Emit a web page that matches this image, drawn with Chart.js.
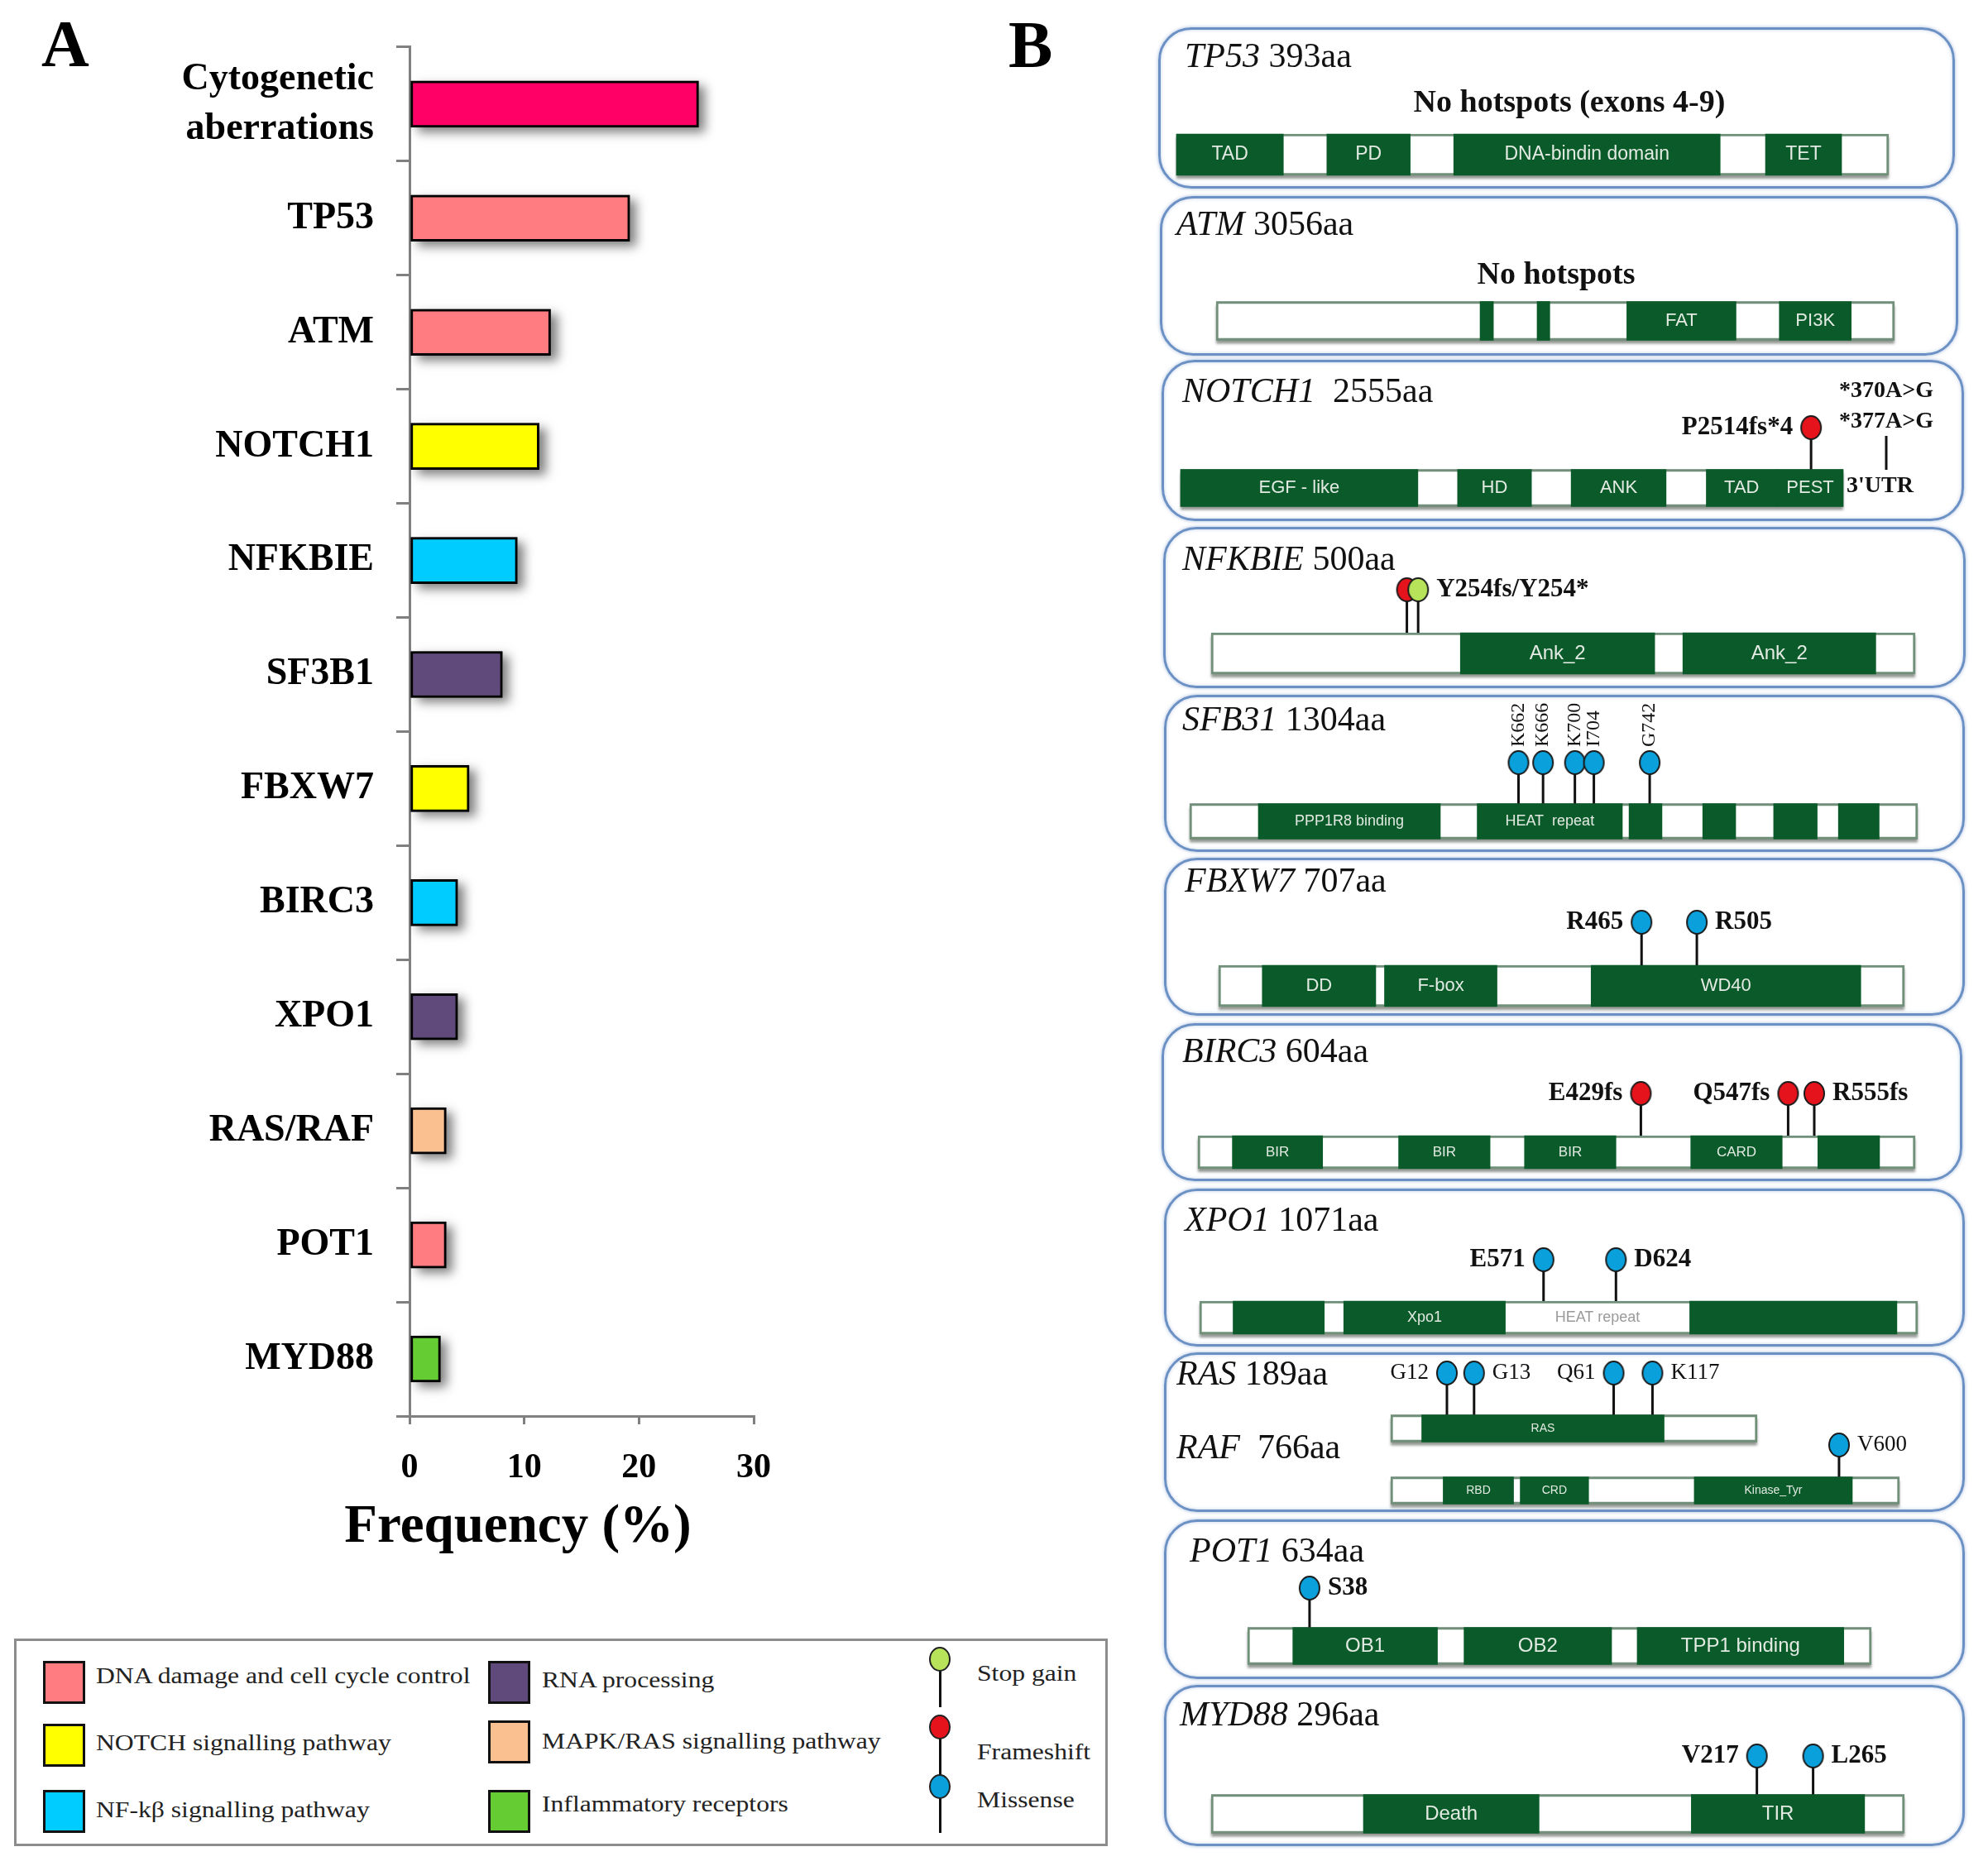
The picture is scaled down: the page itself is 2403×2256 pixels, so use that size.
<!DOCTYPE html>
<html>
<head>
<meta charset="utf-8">
<script src="https://cdn.jsdelivr.net/npm/chart.js@4.4.1/dist/chart.umd.min.js"></script>
<style>
  body { margin: 0; background: #fff; width: 2403px; height: 2256px; position: relative; overflow: hidden; font-family: "Liberation Serif", serif; }
  .abs { position: absolute; }
  .letter { position: absolute; font: bold 80px "Liberation Serif", serif; line-height: 1; color: #000; }
  .box { position: absolute; box-sizing: border-box; border: 3px solid #6b90c4; border-radius: 40px;
         box-shadow: 0 0 4px rgba(90,130,190,0.55), inset 0 0 4px rgba(90,130,190,0.35); }
  .legend { position: absolute; left: 17px; top: 1981px; width: 1322px; height: 251px; box-sizing: border-box; border: 3px solid #8c8c8c; }
  .sw { position: absolute; width: 51px; height: 52px; box-sizing: border-box; border: 3px solid #111; }
  .lt { position: absolute; font: 28px "Liberation Serif", serif; line-height: 1; transform: translateY(-50%) scaleX(1.13);
        transform-origin: left center; white-space: nowrap; color: #222; }
  .stem { position: absolute; width: 3px; background: #111; }
  .head { position: absolute; width: 26px; height: 30px; border-radius: 50%; box-sizing: border-box; border: 2px solid #222; }
</style>
</head>
<body>
<div class="letter" style="left:50px; top:13px;">A</div>
<div class="letter" style="left:1219px; top:14px;">B</div>
<canvas id="chartA" width="960" height="1960" class="abs" style="left:0; top:0;"></canvas>

<div class="legend"></div>
<div class="sw" style="left:52px; top:2008px; background:#FF7C80;"></div>
<div class="lt" style="left:116px; top:2026px;">DNA damage and cell cycle control</div>
<div class="sw" style="left:52px; top:2084px; background:#FFFF00;"></div>
<div class="lt" style="left:116px; top:2107px;">NOTCH signalling pathway</div>
<div class="sw" style="left:52px; top:2164px; background:#00CCFF;"></div>
<div class="lt" style="left:116px; top:2188px;">NF-kβ signalling pathway</div>
<div class="sw" style="left:590px; top:2008px; background:#604A7B;"></div>
<div class="lt" style="left:655px; top:2031px;">RNA processing</div>
<div class="sw" style="left:590px; top:2080px; background:#FAC090;"></div>
<div class="lt" style="left:655px; top:2105px;">MAPK/RAS signalling pathway</div>
<div class="sw" style="left:590px; top:2164px; background:#66CC33;"></div>
<div class="lt" style="left:655px; top:2181px;">Inflammatory receptors</div>

<div class="stem" style="left:1135px; top:2019px; height:45px;"></div>
<div class="head" style="left:1123px; top:1991px; background:#b6e35a;"></div>
<div class="stem" style="left:1135px; top:2100px; height:47px;"></div>
<div class="head" style="left:1123px; top:2073px; background:#e5141c;"></div>
<div class="stem" style="left:1135px; top:2172px; height:44px;"></div>
<div class="head" style="left:1123px; top:2145px; background:#0aa0dc;"></div>
<div class="lt" style="left:1181px; top:2023px;">Stop gain</div>
<div class="lt" style="left:1181px; top:2118px;">Frameshift</div>
<div class="lt" style="left:1181px; top:2176px;">Missense</div>

<script>
// ---- panel A data
const categories = [['Cytogenetic', 'aberrations'], 'TP53', 'ATM', 'NOTCH1', 'NFKBIE', 'SF3B1', 'FBXW7', 'BIRC3', 'XPO1', 'RAS/RAF', 'POT1', 'MYD88'];
const frequency = [25.2, 19.2, 12.3, 11.3, 9.4, 8.1, 5.2, 4.2, 4.2, 3.2, 3.2, 2.7];
const pathways = ['CYTO', 'DNA', 'DNA', 'NOTCH', 'NFKB', 'RNA', 'NOTCH', 'NFKB', 'RNA', 'MAPK', 'DNA', 'INFLAM'];
const freqTicks = [0, 10, 20, 30];

// ---- panel B data: [start aa, end aa, label] and [aa, type, label, side]
const TP53_LEN = 393;
const TP53_DOMAINS = [[0, 59, 'TAD'], [83, 129, 'PD'], [153, 300, 'DNA-bindin domain'], [325, 367, 'TET']];
const ATM_LEN = 3056;
const ATM_DOMAINS = [[1189, 1249, ''], [1446, 1503, ''], [1850, 2342, 'FAT'], [2537, 2861, 'PI3K']];
const NOTCH1_LEN = 2555;
const NOTCH1_DOMAINS = [[0, 915, 'EGF - like'], [1068, 1353, 'HD'], [1506, 1872, 'ANK'], [2027, 2300, 'TAD'], [2300, 2555, 'PEST']];
const NOTCH1_MUTS = [[2431, 'frameshift', 'P2514fs*4', 'left']];
const NOTCH1_UTR = ['*370A>G', '*377A>G', "3'UTR"];
const NFKBIE_LEN = 500;
const NFKBIE_DOMAINS = [[177, 315, 'Ank_2'], [335, 472, 'Ank_2']];
const NFKBIE_MUTS = [[139, 'frameshift', '', ''], [147, 'stopgain', 'Y254fs/Y254*', 'right']];
const SF3B1_LEN = 1304;
const SF3B1_DOMAINS = [[123, 449, 'PPP1R8 binding'], [515, 775, 'HEAT  repeat'], [787, 846, ''], [919, 978, ''], [1046, 1124, ''], [1162, 1235, '']];
const SF3B1_MUTS = [[589, 'missense', 'K662', 'up'], [633, 'missense', 'K666', 'up'], [690, 'missense', 'K700', 'up'], [724, 'missense', 'I704', 'up'], [824, 'missense', 'G742', 'up']];
const FBXW7_LEN = 707;
const FBXW7_DOMAINS = [[45, 162, 'DD'], [171, 287, 'F-box'], [384, 662, 'WD40']];
const FBXW7_MUTS = [[436, 'missense', 'R465', 'left'], [493, 'missense', 'R505', 'right']];
const BIRC3_LEN = 604;
const BIRC3_DOMAINS = [[29, 105, 'BIR'], [169, 246, 'BIR'], [275, 352, 'BIR'], [415, 492, 'CARD'], [522, 574, '']];
const BIRC3_MUTS = [[373, 'frameshift', 'E429fs', 'left'], [497, 'frameshift', 'Q547fs', 'left'], [519, 'frameshift', 'R555fs', 'right']];
const XPO1_LEN = 1071;
const XPO1_DOMAINS = [[50, 186, ''], [215, 456, 'Xpo1'], [731, 1040, '']];
const XPO1_REGIONS = [[456, 731, 'HEAT repeat']];
const XPO1_MUTS = [[513, 'missense', 'E571', 'left'], [621, 'missense', 'D624', 'right']];
const RAS_LEN = 189;
const RAS_DOMAINS = [[16, 141, 'RAS']];
const RAS_MUTS = [[29, 'missense', 'G12', 'left'], [43, 'missense', 'G13', 'right'], [115, 'missense', 'Q61', 'left'], [135, 'missense', 'K117', 'right']];
const RAF_LEN = 766;
const RAF_DOMAINS = [[79, 185, 'RBD'], [195, 298, 'CRD'], [457, 695, 'Kinase_Tyr']];
const RAF_MUTS = [[675, 'missense', 'V600', 'right']];
const POT1_LEN = 634;
const POT1_DOMAINS = [[46, 193, 'OB1'], [220, 370, 'OB2'], [396, 606, 'TPP1 binding']];
const POT1_MUTS = [[63, 'missense', 'S38', 'right']];
const MYD88_LEN = 296;
const MYD88_DOMAINS = [[65, 140, 'Death'], [205, 279, 'TIR']];
const MYD88_MUTS = [[233, 'missense', 'V217', 'left'], [257, 'missense', 'L265', 'right']];

const geneData = {
  TP53: [{ len: TP53_LEN, domains: TP53_DOMAINS, muts: [] }],
  ATM: [{ len: ATM_LEN, domains: ATM_DOMAINS, muts: [] }],
  NOTCH1: [{ len: NOTCH1_LEN, domains: NOTCH1_DOMAINS, muts: NOTCH1_MUTS }],
  NFKBIE: [{ len: NFKBIE_LEN, domains: NFKBIE_DOMAINS, muts: NFKBIE_MUTS }],
  SF3B1: [{ len: SF3B1_LEN, domains: SF3B1_DOMAINS, muts: SF3B1_MUTS }],
  FBXW7: [{ len: FBXW7_LEN, domains: FBXW7_DOMAINS, muts: FBXW7_MUTS }],
  BIRC3: [{ len: BIRC3_LEN, domains: BIRC3_DOMAINS, muts: BIRC3_MUTS }],
  XPO1: [{ len: XPO1_LEN, domains: XPO1_DOMAINS, muts: XPO1_MUTS, regions: XPO1_REGIONS }],
  RASRAF: [{ len: RAS_LEN, domains: RAS_DOMAINS, muts: RAS_MUTS }, { len: RAF_LEN, domains: RAF_DOMAINS, muts: RAF_MUTS }],
  POT1: [{ len: POT1_LEN, domains: POT1_DOMAINS, muts: POT1_MUTS }],
  MYD88: [{ len: MYD88_LEN, domains: MYD88_DOMAINS, muts: MYD88_MUTS }]
};

// ---- styles / layout
const SERIF = '"Liberation Serif", "DejaVu Serif", serif';
const SANS = '"Liberation Sans Narrow", "Liberation Sans", Arial, sans-serif';
const AXIS = '#808080';
const GREEN = '#0b5a2a';
const pathwayColors = { CYTO: '#FF0066', DNA: '#FF7C80', NOTCH: '#FFFF00', NFKB: '#00CCFF', RNA: '#604A7B', MAPK: '#FAC090', INFLAM: '#66CC33' };
const mutColors = { missense: '#0aa0dc', frameshift: '#e5141c', stopgain: '#b6e35a' };

// box: [left, top, width, height]; bars: [x start, x end, y centre, thickness] in page px
const geneLayout = [
  { key: 'TP53', box: [1400, 33, 963, 195], titles: [['TP53', ' 393aa', 1432, 70]], note: ['No hotspots (exons 4-9)', 1897, 125], bars: [[1422, 2283, 187, 50]], domainFont: 23 },
  { key: 'ATM', box: [1402, 237, 965, 193], titles: [['ATM', ' 3056aa', 1422, 273]], note: ['No hotspots', 1881, 333], bars: [[1470, 2290, 388, 47]], domainFont: 22 },
  { key: 'NOTCH1', box: [1404, 435, 970, 195], titles: [['NOTCH1', '  2555aa', 1429, 475]], bars: [[1427, 2228, 590, 45]], heads: [517], domainFont: 22,
    utr: { x: 2280, y0: 527, y1: 568, at: [[2223, 473], [2223, 510], [2232, 588]] } },
  { key: 'NFKBIE', box: [1406, 637, 970, 195], titles: [['NFKBIE', ' 500aa', 1429, 678]], bars: [[1464, 2315, 790, 50]], heads: [713], domainFont: 24 },
  { key: 'SF3B1', box: [1407, 840, 968, 190], titles: [['SFB31', ' 1304aa', 1429, 872]], bars: [[1438, 2318, 993, 43]], heads: [922], domainFont: 18, labelFont: '24px' },
  { key: 'FBXW7', box: [1407, 1037, 968, 191], titles: [['FBXW7', ' 707aa', 1432, 1067]], bars: [[1473, 2302, 1192, 50]], heads: [1115], domainFont: 22 },
  { key: 'BIRC3', box: [1404, 1237, 968, 191], titles: [['BIRC3', ' 604aa', 1429, 1273]], bars: [[1448, 2315, 1393, 40]], heads: [1322], domainFont: 17 },
  { key: 'XPO1', box: [1407, 1437, 968, 191], titles: [['XPO1', ' 1071aa', 1432, 1477]], bars: [[1450, 2318, 1593, 40]], heads: [1523], domainFont: 18 },
  { key: 'RASRAF', box: [1407, 1635, 968, 193], titles: [['RAS', ' 189aa', 1422, 1663], ['RAF', '  766aa', 1422, 1752]],
    bars: [[1681, 2124, 1727, 33], [1681, 2296, 1802, 33]], heads: [1660, 1747], domainFont: 14, labelFont: '27px' },
  { key: 'POT1', box: [1407, 1837, 968, 193], titles: [['POT1', ' 634aa', 1438, 1877]], bars: [[1508, 2262, 1990, 45]], heads: [1920], domainFont: 24 },
  { key: 'MYD88', box: [1407, 2037, 968, 195], titles: [['MYD88', ' 296aa', 1426, 2075]], bars: [[1464, 2302, 2193, 47]], heads: [2123], domainFont: 24 }
];

// ---- panel A
const barShadow = {
  id: 'barShadow',
  beforeDatasetsDraw(chart) {
    const ctx = chart.ctx;
    chart.getDatasetMeta(0).data.forEach(bar => {
      const { x, y, base, height } = bar.getProps(['x', 'y', 'base', 'height'], true);
      ctx.save();
      ctx.shadowColor = 'rgba(0,0,0,0.5)';
      ctx.shadowBlur = 12;
      ctx.shadowOffsetX = 8;
      ctx.shadowOffsetY = 6;
      ctx.fillStyle = '#888';
      ctx.fillRect(base, y - height / 2, x - base, height);
      ctx.restore();
    });
  }
};

// axis title sits left of the plot centre in the original, so it is drawn here
const freqTitle = {
  id: 'freqTitle',
  afterDraw(chart) {
    const ctx = chart.ctx;
    ctx.save();
    ctx.font = `bold 65px ${SERIF}`;
    ctx.fillStyle = '#000';
    ctx.textAlign = 'center';
    ctx.textBaseline = 'middle';
    ctx.fillText('Frequency (%)', 626, 1847);
    ctx.restore();
  }
};

new Chart(document.getElementById('chartA'), {
  type: 'bar',
  data: {
    labels: categories,
    datasets: [{
      data: frequency,
      backgroundColor: pathways.map(p => pathwayColors[p]),
      borderColor: '#000',
      borderWidth: 3,
      borderSkipped: false,
      barThickness: 56
    }]
  },
  options: {
    indexAxis: 'y',
    responsive: false,
    animation: false,
    devicePixelRatio: 1,
    layout: { padding: { top: 51, right: 49, bottom: 60, left: 0 } },
    plugins: { legend: { display: false }, tooltip: { enabled: false } },
    scales: {
      x: {
        type: 'linear', min: 0, max: 30,
        afterBuildTicks: s => { s.ticks = freqTicks.map(v => ({ value: v })); },
        afterFit: s => { s.height = 188; },
        ticks: { color: '#000', padding: 28, font: { family: SERIF, size: 42, weight: 'bold' } },
        grid: { drawOnChartArea: false, tickLength: 10, color: AXIS, lineWidth: 3 },
        border: { color: AXIS, width: 3 }
      },
      y: {
        afterFit: s => { s.width = 495; },
        ticks: { color: '#000', padding: 27, font: { family: SERIF, size: 46, weight: 'bold', lineHeight: 1.3 } },
        grid: { offset: true, drawOnChartArea: false, tickLength: 16, color: AXIS, lineWidth: 3 },
        border: { color: AXIS, width: 3 }
      }
    }
  },
  plugins: [barShadow, freqTitle]
});

// ---- panel B
function headIcon(fill) {
  const c = document.createElement('canvas');
  c.width = 28; c.height = 32;
  const x = c.getContext('2d');
  x.beginPath();
  x.ellipse(14, 16, 12, 14, 0, 0, Math.PI * 2);
  x.fillStyle = fill;
  x.fill();
  x.lineWidth = 2;
  x.strokeStyle = '#1b1b1b';
  x.stroke();
  return c;
}
const HEADS = {};
Object.keys(mutColors).forEach(k => { HEADS[k] = headIcon(mutColors[k]); });

const backboneShadow = {
  id: 'backboneShadow',
  beforeDatasetsDraw(chart) {
    const ctx = chart.ctx;
    chart.data.datasets.forEach((ds, i) => {
      if (!ds.backbone) return;
      chart.getDatasetMeta(i).data.forEach(el => {
        const { x, y, base, height } = el.getProps(['x', 'y', 'base', 'height'], true);
        ctx.save();
        ctx.shadowColor = 'rgba(60,70,60,0.55)';
        ctx.shadowBlur = 3;
        ctx.shadowOffsetY = 4;
        ctx.fillStyle = '#777';
        ctx.fillRect(base, y - height / 2, x - base, height);
        ctx.restore();
      });
    });
  }
};

function geneText(g, proteins) {
  const [bl, bt] = g.box;
  return {
    id: 'geneText',
    afterDatasetsDraw(chart) {
      const ctx = chart.ctx;
      const ys = chart.scales.y;
      ctx.save();
      ctx.textBaseline = 'middle';
      ctx.fillStyle = '#111';
      g.titles.forEach(([name, rest, tx, ty]) => {
        ctx.textAlign = 'left';
        ctx.font = `italic 42px ${SERIF}`;
        ctx.fillText(name, tx - bl, ty - bt);
        const w = ctx.measureText(name).width;
        ctx.font = `42px ${SERIF}`;
        ctx.fillText(rest, tx - bl + w, ty - bt);
      });
      if (g.note) {
        ctx.textAlign = 'center';
        ctx.font = `bold 38px ${SERIF}`;
        ctx.fillText(g.note[0], g.note[1] - bl, g.note[2] - bt);
      }
      proteins.forEach((p, k) => {
        const xs = chart.scales[k === 0 ? 'x' : 'x' + (k + 1)];
        const cy = ys.getPixelForValue(g.bars[k][2] - bt);
        ctx.textAlign = 'center';
        ctx.font = `${g.domainFont}px ${SANS}`;
        ctx.fillStyle = '#e2eae2';
        p.domains.forEach(d => { if (d[2]) ctx.fillText(d[2], xs.getPixelForValue((d[0] + d[1]) / 2), cy); });
        ctx.fillStyle = '#9a9a9a';
        (p.regions || []).forEach(r => ctx.fillText(r[2], xs.getPixelForValue((r[0] + r[1]) / 2), cy));
        ctx.fillStyle = '#111';
        ctx.font = g.labelFont ? `${g.labelFont} ${SERIF}` : `bold 31px ${SERIF}`;
        p.muts.forEach(m => {
          const label = m[2], side = m[3];
          if (!label) return;
          const px = xs.getPixelForValue(m[0]);
          const py = ys.getPixelForValue(g.heads[k] - bt);
          if (side === 'up') {
            ctx.save();
            ctx.translate(px, py - 19);
            ctx.rotate(-Math.PI / 2);
            ctx.textAlign = 'left';
            ctx.fillText(label, 0, 0);
            ctx.restore();
          } else if (side === 'left') {
            ctx.textAlign = 'right';
            ctx.fillText(label, px - 22, py);
          } else {
            ctx.textAlign = 'left';
            ctx.fillText(label, px + 22, py);
          }
        });
      });
      if (g.utr) {
        const u = g.utr;
        ctx.strokeStyle = '#111';
        ctx.lineWidth = 3;
        ctx.beginPath();
        ctx.moveTo(u.x - bl, u.y0 - bt);
        ctx.lineTo(u.x - bl, u.y1 - bt);
        ctx.stroke();
        ctx.textAlign = 'left';
        ctx.font = `bold 28px ${SERIF}`;
        NOTCH1_UTR.forEach((t, i) => ctx.fillText(t, u.at[i][0] - bl, u.at[i][1] - bt));
      }
      ctx.restore();
    }
  };
}

function drawGene(g) {
  const [bl, bt, bw, bh] = g.box;
  const frame = document.createElement('div');
  frame.className = 'box';
  frame.style.left = bl + 'px';
  frame.style.top = bt + 'px';
  frame.style.width = bw + 'px';
  frame.style.height = bh + 'px';
  document.body.appendChild(frame);

  const canvas = document.createElement('canvas');
  canvas.width = bw;
  canvas.height = bh;
  canvas.style.position = 'absolute';
  canvas.style.left = bl + 'px';
  canvas.style.top = bt + 'px';
  document.body.appendChild(canvas);

  const proteins = geneData[g.key];
  const scales = { y: { type: 'linear', display: false, min: 0, max: bh, reverse: true, offset: false, bounds: 'data' } };
  const datasets = [];

  proteins.forEach((p, k) => {
    const xid = k === 0 ? 'x' : 'x' + (k + 1);
    const [x0, x1, yc, th] = g.bars[k];
    const aaPerPx = p.len / (x1 - x0);
    scales[xid] = { type: 'linear', display: false, offset: false, bounds: 'data',
                    min: -(x0 - bl) * aaPerPx, max: p.len + (bl + bw - x1) * aaPerPx };
    const y = yc - bt;
    datasets.push({ type: 'bar', backbone: true, xAxisID: xid, data: [{ x: [0, p.len], y }],
                    backgroundColor: '#ffffff', borderColor: '#71907a', borderWidth: 3, borderSkipped: false,
                    barThickness: th, grouped: false, order: 5 });
    datasets.push({ type: 'bar', xAxisID: xid, data: p.domains.map(d => ({ x: [d[0], d[1]], y })),
                    backgroundColor: GREEN, borderWidth: 0, barThickness: th, grouped: false, order: 4 });
    if (p.muts.length) {
      const hy = g.heads[k] - bt;
      const stems = [];
      p.muts.forEach(m => stems.push({ x: m[0], y: y - th / 2 }, { x: m[0], y: hy }, { x: null, y: null }));
      datasets.push({ type: 'line', xAxisID: xid, data: stems, borderColor: '#111', borderWidth: 3,
                      pointRadius: 0, fill: false, spanGaps: false, order: 2 });
      datasets.push({ type: 'scatter', xAxisID: xid, data: p.muts.map(m => ({ x: m[0], y: hy })),
                      pointStyle: p.muts.map(m => HEADS[m[1]]), pointRadius: 13, order: 1 });
    }
  });

  new Chart(canvas, {
    type: 'bar',
    data: { datasets },
    options: {
      indexAxis: 'y',
      responsive: false,
      animation: false,
      devicePixelRatio: 1,
      events: [],
      layout: { autoPadding: false, padding: 0 },
      plugins: { legend: { display: false }, tooltip: { enabled: false } },
      scales
    },
    plugins: [backboneShadow, geneText(g, proteins)]
  });
}

geneLayout.forEach(drawGene);
</script>
</body>
</html>
